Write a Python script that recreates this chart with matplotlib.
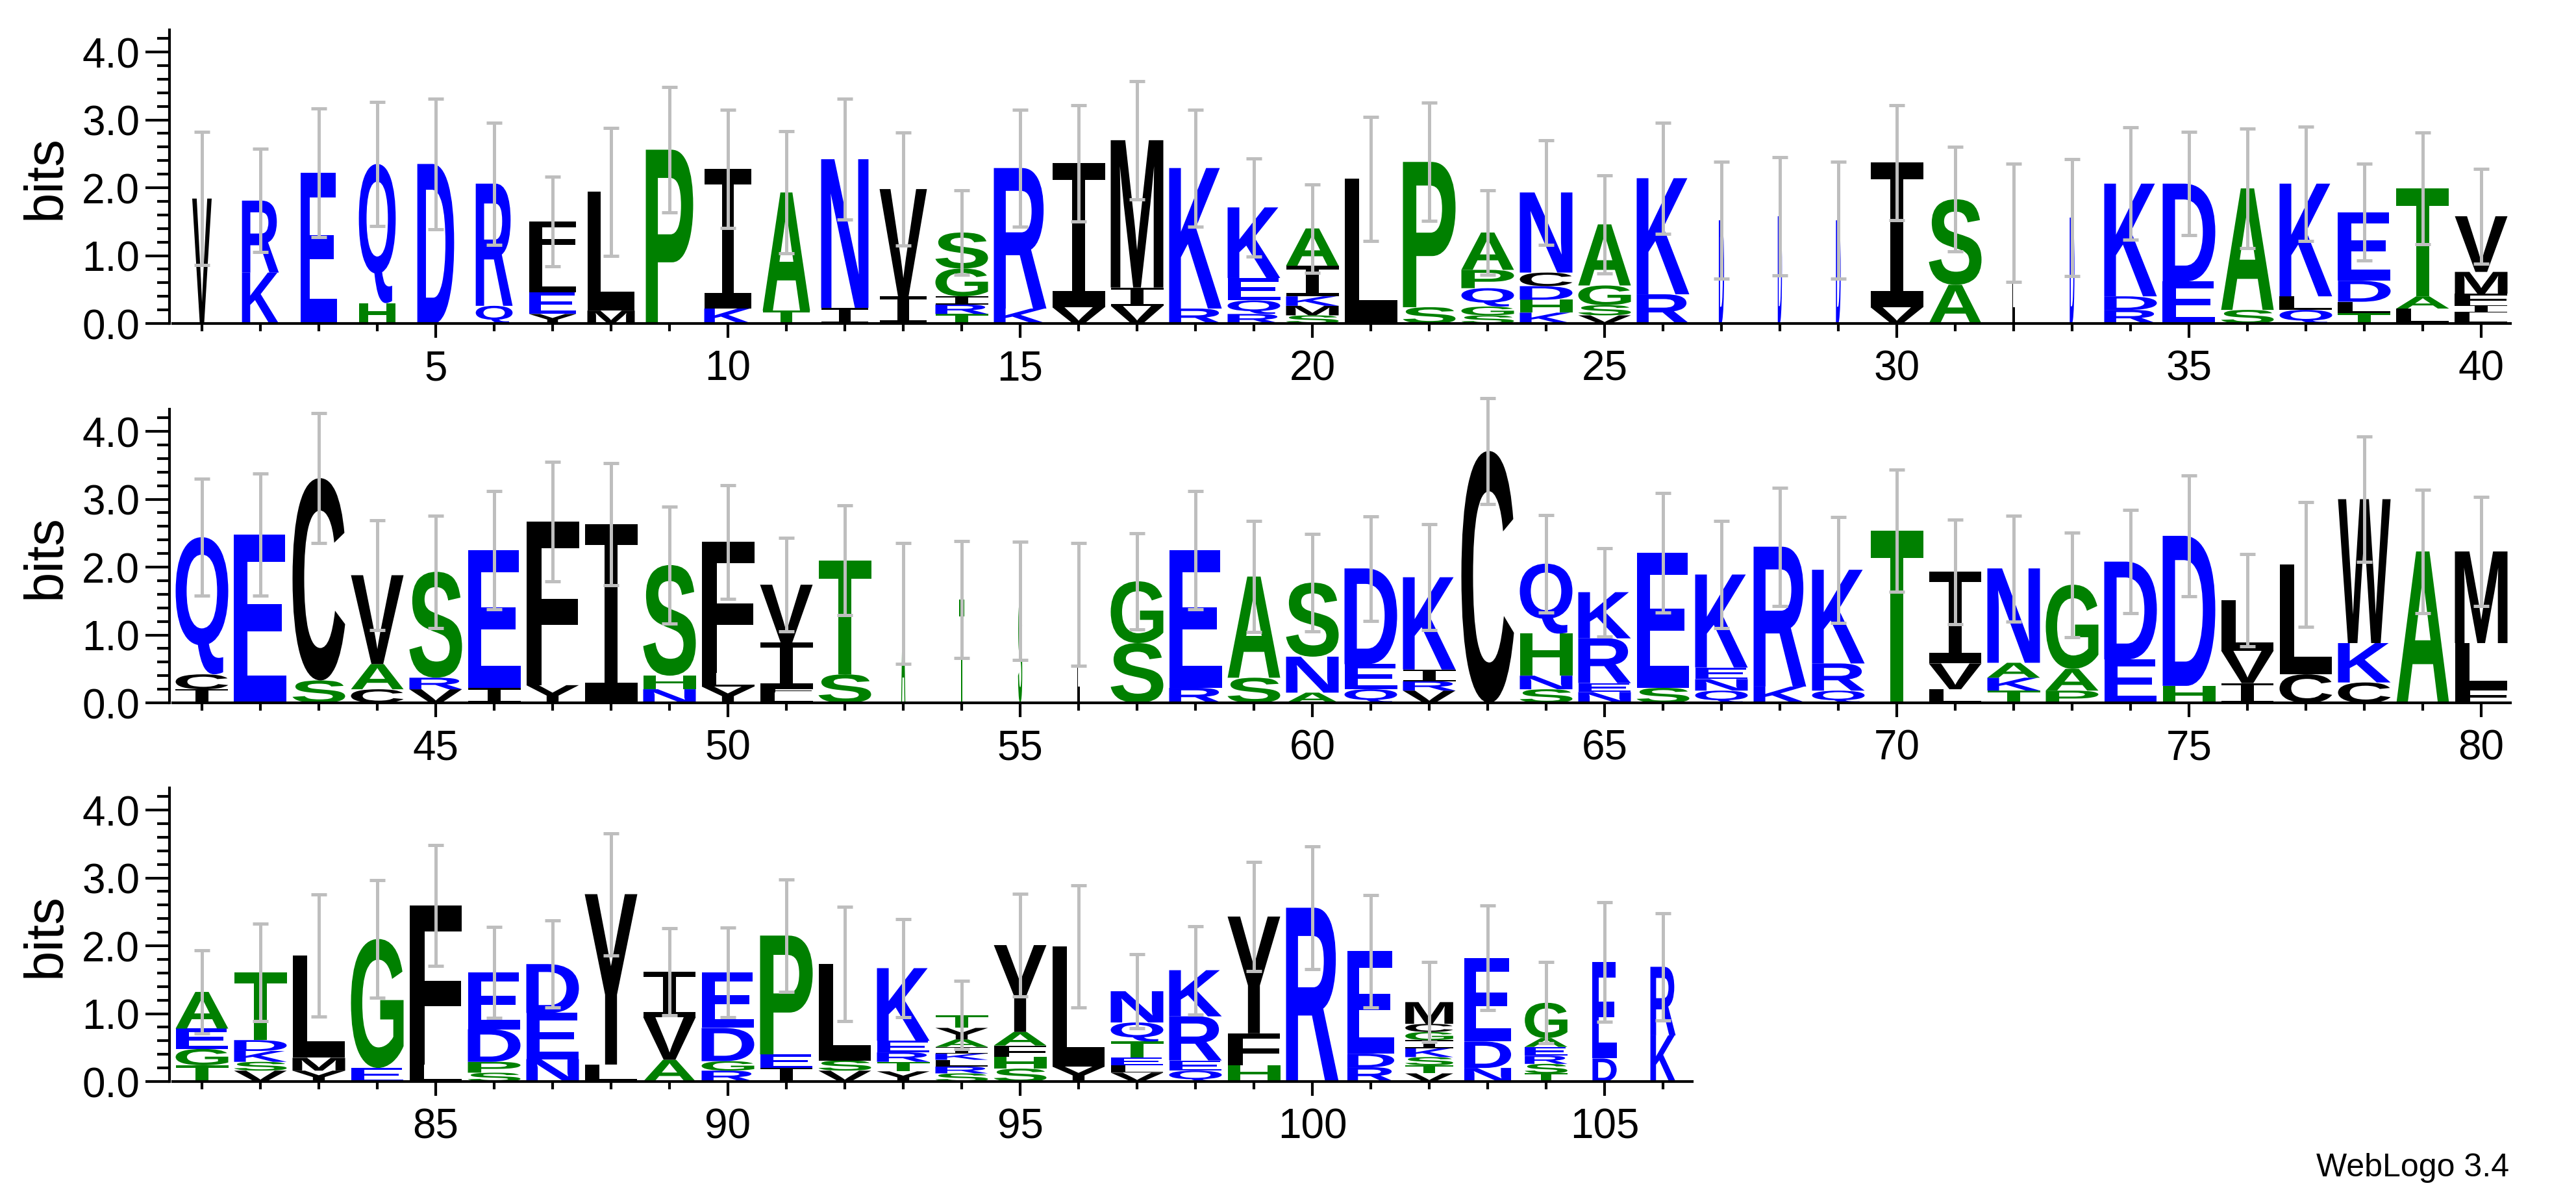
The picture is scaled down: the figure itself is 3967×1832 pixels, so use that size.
import numpy as np
import matplotlib
matplotlib.use("Agg")
from matplotlib import pyplot as plt
from matplotlib.textpath import TextPath
from matplotlib.patches import PathPatch
from matplotlib.font_manager import FontProperties
import matplotlib.transforms as mtransforms

plt.rcParams['font.family'] = ['Liberation Sans', 'DejaVu Sans']

# letters per column, bottom -> top
letters = [
    "V", "KR", "E", "HQ", "D", "QR", "YELF", "ML", "P", "KI",
    "TA", "IN", "IV", "TRIGS", "KR", "VI", "VIM", "RK", "RQEK", "SMKIA",
    "L", "SP", "SGQPA", "KHDCN", "VSGA", "RK", "D", "D", "D", "VI",
    "AS", "L", "D", "RDK", "ED", "SA", "QLK", "TLDE", "LAT", "LIFMV",
    "ICQ", "E", "SC", "CAV", "VRS", "IE", "YF", "I", "NHS", "YLF",
    "LFIV", "ST", "A", "T", "S", "L", "SG", "RE", "SA", "ANS",
    "QED", "VRIK", "C", "SNHQ", "NERK", "SE", "QNEK", "KR", "QRK", "T",
    "LVI", "TKAN", "PAG", "ED", "HD", "IVL", "CL", "CKW", "A", "FLM",
    "TGEA", "VSKDT", "YML", "EG", "LF", "SPDE", "NED", "LY", "AVI", "RGDE",
    "IEP", "VSL", "YTREK", "SRLKIAYT", "SHFAY", "YL", "VLETQN", "QERK", "HFY", "R",
    "RDE", "VTSKIGCM", "NDE", "TSREAG", "DE", "KR",
]
heights = [
    [1.84], [0.75, 1.06], [2.22], [0.30, 2.05], [2.35], [0.26, 1.80], [0.14, 0.32, 0.50, 0.54], [0.19, 1.75], [2.56], [0.22, 2.06],
    [0.19, 1.74], [0.23, 2.19], [0.40, 1.58], [0.14, 0.14, 0.12, 0.41, 0.53], [0.22, 2.07], [0.24, 2.12], [0.26, 0.27, 2.17], [0.22, 2.07], [0.14, 0.20, 0.33, 1.04], [0.12, 0.14, 0.14, 0.45, 0.55],
    [2.13], [0.24, 2.14], [0.12, 0.13, 0.27, 0.27, 0.55], [0.16, 0.19, 0.20, 0.20, 1.18], [0.12, 0.15, 0.29, 0.90], [0.43, 1.71], [1.52], [1.58], [1.52], [0.24, 2.13],
    [0.57, 1.26], [1.48], [1.56], [0.20, 0.20, 1.66], [0.62, 1.44], [0.20, 1.79], [0.20, 0.20, 1.66], [0.15, 0.17, 0.31, 1.01], [0.22, 0.18, 1.59], [0.16, 0.11, 0.17, 0.32, 0.82],
    [0.20, 0.22, 2.02], [2.48], [0.33, 2.98], [0.20, 0.37, 1.31], [0.20, 0.17, 1.56], [0.22, 2.03], [0.26, 2.41], [2.63], [0.20, 0.20, 1.63], [0.24, 0.20, 1.93],
    [0.15, 0.06, 0.68, 0.85], [0.42, 1.68], [1.46], [1.52], [1.50], [1.45], [0.88, 0.91], [0.22, 2.03], [0.37, 1.49], [0.15, 0.53, 1.09],
    [0.20, 0.37, 1.41], [0.18, 0.14, 0.17, 1.36], [3.71], [0.20, 0.20, 0.62, 1.03], [0.16, 0.13, 0.66, 0.68], [0.22, 1.99], [0.18, 0.17, 0.17, 1.37], [0.24, 2.06], [0.18, 0.40, 1.38], [2.54],
    [0.20, 0.38, 1.35], [0.18, 0.19, 0.22, 1.39], [0.18, 0.32, 1.24], [0.64, 1.44], [0.25, 2.21], [0.29, 0.48, 0.74], [0.42, 1.62], [0.30, 0.58, 2.12], [2.23], [0.22, 0.66, 1.35],
    [0.24, 0.24, 0.30, 0.54], [0.16, 0.13, 0.16, 0.16, 1.00], [0.16, 0.19, 1.51], [0.20, 1.90], [0.25, 2.34], [0.13, 0.16, 0.48, 0.84], [0.33, 0.68, 0.72], [0.25, 2.51], [0.32, 0.63, 0.67], [0.16, 0.14, 0.49, 0.82],
    [0.20, 0.20, 1.75], [0.16, 0.15, 1.42], [0.15, 0.14, 0.14, 0.17, 1.07], [0.12, 0.10, 0.10, 0.09, 0.10, 0.11, 0.17, 0.19], [0.19, 0.17, 0.17, 0.20, 1.28], [0.22, 1.77], [0.13, 0.11, 0.11, 0.24, 0.28, 0.46], [0.16, 0.15, 0.65, 0.68], [0.24, 0.47, 1.72], [2.56],
    [0.21, 0.20, 1.51], [0.12, 0.12, 0.12, 0.13, 0.12, 0.12, 0.12, 0.32], [0.20, 0.39, 1.23], [0.12, 0.14, 0.12, 0.13, 0.13, 0.52], [0.34, 1.42], [0.68, 1.01],
]
errors = [
    0.98, 0.76, 0.95, 0.91, 0.96, 0.90, 0.66, 0.94, 0.92, 0.87,
    0.90, 0.89, 0.83, 0.62, 0.86, 0.86, 0.87, 0.86, 0.72, 0.65,
    0.91, 0.87, 0.62, 0.77, 0.72, 0.82, 0.86, 0.87, 0.86, 0.85,
    0.77, 0.87, 0.86, 0.83, 0.76, 0.88, 0.84, 0.71, 0.82, 0.70,
    0.86, 0.90, 0.96, 0.81, 0.83, 0.87, 0.88, 0.90, 0.86, 0.84,
    0.69, 0.81, 0.89, 0.86, 0.87, 0.90, 0.71, 0.87, 0.82, 0.72,
    0.77, 0.78, 0.78, 0.72, 0.65, 0.88, 0.79, 0.87, 0.78, 0.90,
    0.77, 0.78, 0.77, 0.76, 0.89, 0.68, 0.92, 0.92, 0.91, 0.80,
    0.61, 0.72, 0.90, 0.87, 0.89, 0.67, 0.64, 0.90, 0.64, 0.66,
    0.83, 0.84, 0.72, 0.50, 0.76, 0.90, 0.55, 0.65, 0.80, 0.90,
    0.83, 0.59, 0.77, 0.60, 0.88, 0.79,
]
# fraction of non-gap residues (sets the column width)
occupancy = [1.0] * 106
for p, f in {1: 0.37, 2: 0.7, 3: 0.7, 4: 0.7, 5: 0.7, 6: 0.7, 7: 0.9, 8: 0.9, 9: 0.9, 10: 0.9,
             11: 0.9, 12: 0.9, 13: 0.9, 27: 0.1, 28: 0.08, 29: 0.09, 32: 0.06, 33: 0.09,
             53: 0.08, 54: 0.1, 55: 0.08, 56: 0.06, 101: 0.89, 102: 0.91, 103: 0.89,
             104: 0.81, 105: 0.46, 106: 0.48}.items():
    occupancy[p - 1] = f

rows = [(1, 40), (41, 80), (81, 106)]

colors = {}
for c in "RKDENQ":
    colors[c] = "#0000ff"
for c in "SGHTAP":
    colors[c] = "#008000"
for c in "YVMCLFIW":
    colors[c] = "#000000"

fp = FontProperties(family='Liberation Sans', weight='bold')
fp_i = FontProperties(family='DejaVu Sans Mono', weight='normal')


def draw_letter(ax, ch, x, y0, w, h):
    tp = TextPath((0, 0), ch, size=1, prop=fp_i if ch == 'I' else fp)
    bb = tp.get_extents()
    tr = mtransforms.Affine2D().translate(-bb.x0, -bb.y0).scale(w / bb.width, h / bb.height).translate(x - w / 2, y0)
    ax.add_patch(PathPatch(tr.transform_path(tp), fc=colors[ch], ec='none', lw=0, zorder=2))


W, H = 3967, 1833
fig = plt.figure(figsize=(W / 100, H / 100), dpi=100)
baselines = [499, 1083, 1666]
ppos = 90
pbit = 104.5
ymax = 4.33

for (start, end), base in zip(rows, baselines):
    n = end - start + 1
    ax = fig.add_axes([266 / W, (H - base) / H, n * ppos / W, ymax * pbit / H])
    ax.patch.set_visible(False)
    ax.set_xlim(start - 0.5, end + 0.5)
    ax.set_ylim(0, ymax)
    pos = np.arange(start, end + 1)
    tops = []
    for p in pos:
        y = 0.0
        w = 0.9 * occupancy[p - 1]
        for ch, h in zip(letters[p - 1], heights[p - 1]):
            draw_letter(ax, ch, p, y, w, h)
            y += h
        tops.append(y)
    ax.errorbar(pos, tops, yerr=[errors[p - 1] for p in pos], fmt='none', ecolor='#bebebe',
                elinewidth=3.6, capsize=8.3, capthick=3.6, zorder=5, clip_on=False)
    ax.spines[['top', 'right']].set_visible(False)
    ax.spines['left'].set_position(('outward', 3.6))
    ax.spines['left'].set_linewidth(3)
    ax.spines['bottom'].set_linewidth(3)
    ax.set_xticks(pos, minor=True)
    ax.set_xticks([p for p in pos if p % 5 == 0])
    ax.set_yticks([0, 1, 2, 3, 4])
    ax.set_yticks(np.arange(0, 4.31, 0.2), minor=True)
    ax.yaxis.set_major_formatter('{x:.1f}')
    ax.tick_params(axis='x', which='major', length=15.8, width=3, pad=13, labelsize=46)
    ax.tick_params(axis='x', which='minor', length=8.6, width=3)
    ax.tick_params(axis='y', which='major', length=27, width=3, pad=6, labelsize=46)
    ax.tick_params(axis='y', which='minor', length=13.7, width=3)
    fig.text(71 / W, (H - base + ymax * pbit / 2) / H, 'bits', rotation=90,
             ha='center', va='center', fontsize=60)

fig.text(3864 / W, 1 - 1798 / H, 'WebLogo 3.4', ha='right', va='center', fontsize=36)

fig.savefig('out.png', dpi=100)
